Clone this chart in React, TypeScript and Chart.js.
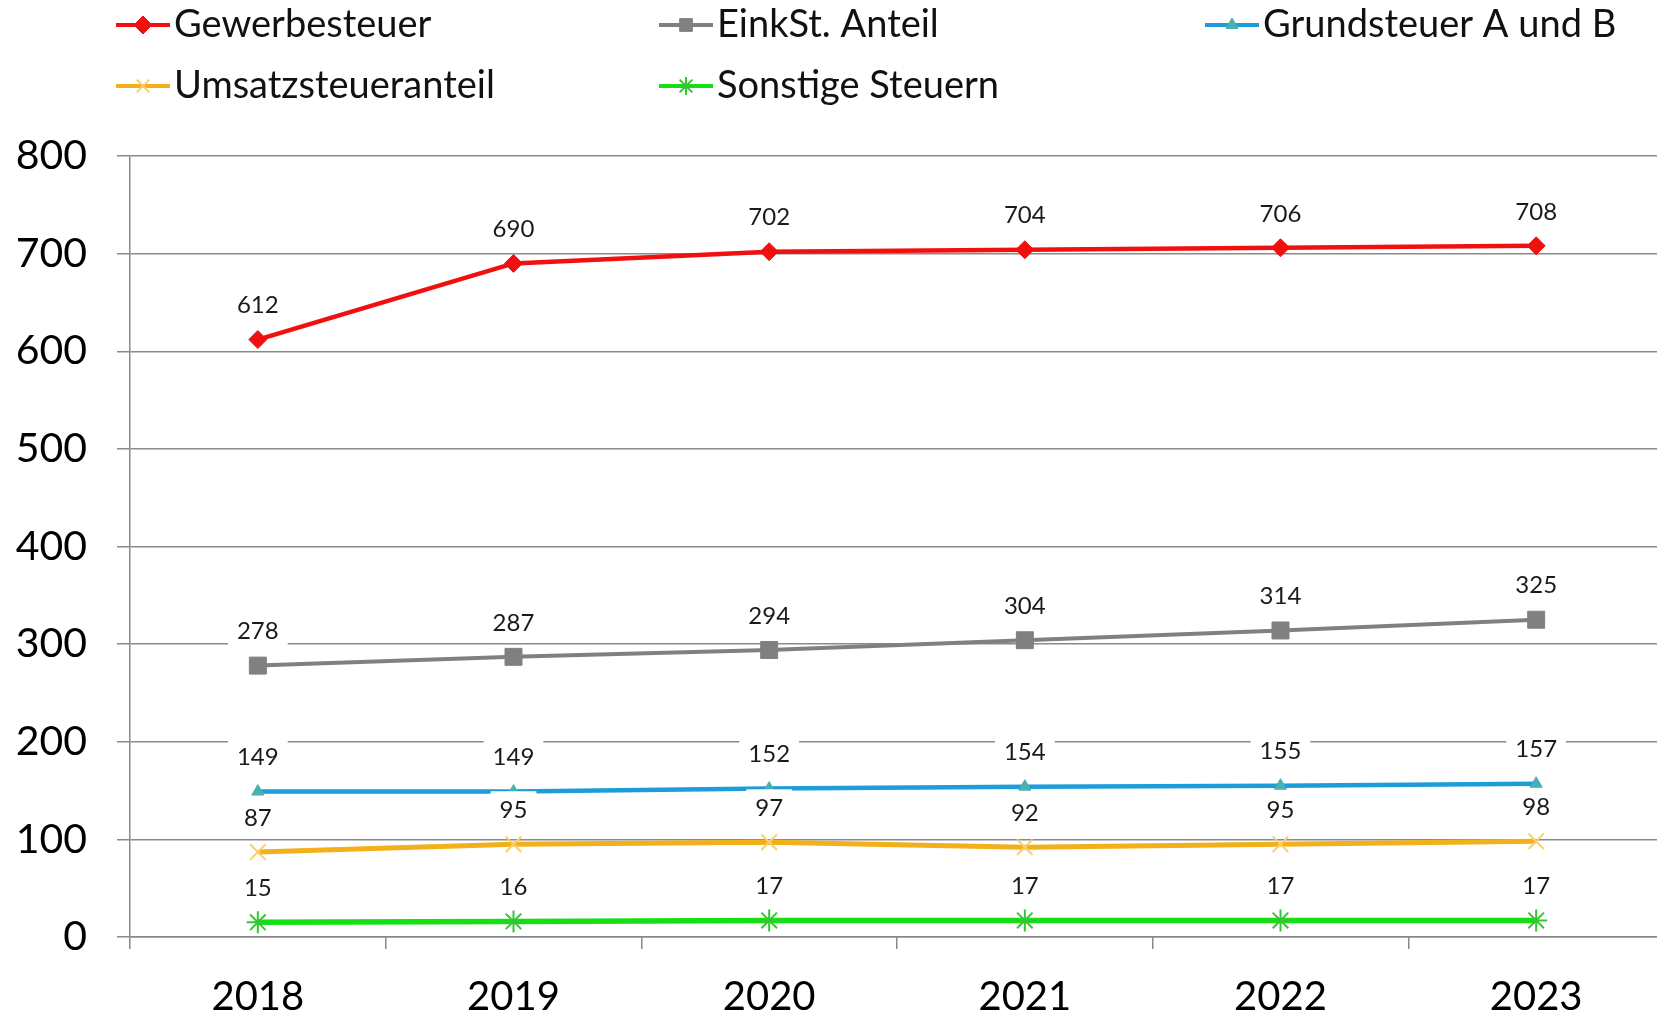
import React, { useEffect, useRef } from "react";
import { Chart, registerables } from "chart.js";

Chart.register(...registerables);

const years = ["2018", "2019", "2020", "2021", "2022", "2023"];
const gewerbesteuer = [612, 690, 702, 704, 706, 708];
const einkStAnteil = [278, 287, 294, 304, 314, 325];
const grundsteuer = [149, 149, 152, 154, 155, 157];
const umsatzsteuer = [87, 95, 97, 92, 95, 98];
const sonstige = [15, 16, 17, 17, 17, 17];
const seriesNames = [
  "Gewerbesteuer",
  "EinkSt. Anteil",
  "Grundsteuer A und B",
  "Umsatzsteueranteil",
  "Sonstige Steuern",
];
const yMin = 0;
const yMax = 800;
const yStep = 100;

const FONT = "Lato";

// legend slot positions (column x, row y)
const legendCols = [116, 659, 1205];
const legendRows = [25, 86];
const legendSlots = [
  [0, 0],
  [1, 0],
  [2, 0],
  [0, 1],
  [1, 1],
];

function drawPointShape(ctx: CanvasRenderingContext2D, style: string, x: number, y: number, r: number) {
  ctx.beginPath();
  if (style === "rectRot") {
    ctx.moveTo(x, y - r);
    ctx.lineTo(x + r, y);
    ctx.lineTo(x, y + r);
    ctx.lineTo(x - r, y);
    ctx.closePath();
    ctx.fill();
    ctx.stroke();
  } else if (style === "rect") {
    const s = r * Math.SQRT1_2;
    ctx.rect(x - s, y - s, 2 * s, 2 * s);
    ctx.fill();
    ctx.stroke();
  } else if (style === "triangle") {
    ctx.moveTo(x, y - r);
    ctx.lineTo(x + r * 0.87, y + r * 0.5);
    ctx.lineTo(x - r * 0.87, y + r * 0.5);
    ctx.closePath();
    ctx.fill();
    ctx.stroke();
  } else if (style === "crossRot") {
    const s = r * Math.SQRT1_2;
    ctx.moveTo(x - s, y - s);
    ctx.lineTo(x + s, y + s);
    ctx.moveTo(x - s, y + s);
    ctx.lineTo(x + s, y - s);
    ctx.stroke();
  } else if (style === "star") {
    const s = r * Math.SQRT1_2;
    ctx.moveTo(x - s, y - s);
    ctx.lineTo(x + s, y + s);
    ctx.moveTo(x - s, y + s);
    ctx.lineTo(x + s, y - s);
    ctx.moveTo(x, y - r);
    ctx.lineTo(x, y + r);
    ctx.moveTo(x - r, y);
    ctx.lineTo(x + r, y);
    ctx.stroke();
  }
}

const legendPlugin = {
  id: "gridLegend",
  afterDraw(chart: any) {
    const ctx = chart.ctx;
    ctx.save();
    chart.data.datasets.forEach((ds: any, i: number) => {
      const [c, r] = legendSlots[i];
      const x = legendCols[c];
      const y = legendRows[r];
      ctx.strokeStyle = ds.borderColor;
      ctx.lineWidth = 4;
      ctx.beginPath();
      ctx.moveTo(x, y);
      ctx.lineTo(x + 54, y);
      ctx.stroke();
      ctx.fillStyle = ds.pointBackgroundColor;
      ctx.strokeStyle = ds.pointBorderColor;
      ctx.lineWidth = ds.pointBorderWidth ?? 1;
      drawPointShape(ctx, ds.pointStyle, x + 27, y, Math.min(ds.pointRadius, 9));
      ctx.fillStyle = "#111";
      ctx.font = `38px ${FONT}`;
      ctx.textAlign = "left";
      ctx.textBaseline = "middle";
      ctx.fillText(ds.label, x + 58, y);
    });
    ctx.restore();
  },
};

const dataLabelPlugin = {
  id: "boxedLabels",
  afterDatasetsDraw(chart: any) {
    const ctx = chart.ctx;
    ctx.save();
    ctx.font = `24px ${FONT}`;
    ctx.textAlign = "center";
    ctx.textBaseline = "middle";
    chart.data.datasets.forEach((ds: any, di: number) => {
      const meta = chart.getDatasetMeta(di);
      meta.data.forEach((pt: any, i: number) => {
        const txt = String(ds.data[i]);
        const w = ctx.measureText(txt).width + 18;
        const h = 38;
        const cx = pt.x;
        const cy = pt.y - 34;
        ctx.fillStyle = "#ffffff";
        ctx.fillRect(cx - w / 2, cy - h / 2, w, h);
        ctx.fillStyle = "#1a1a1a";
        ctx.fillText(txt, cx, cy);
      });
    });
    ctx.restore();
  },
};

export default function App() {
  const canvasRef = useRef<HTMLCanvasElement | null>(null);

  useEffect(() => {
    if (!canvasRef.current) return;
    const mk = (
      label: string,
      data: number[],
      color: string,
      width: number,
      pointStyle: string,
      radius: number,
      pointFill: string,
      pointBorder: string,
      pointBorderWidth: number
    ) => ({
      label,
      data,
      borderColor: color,
      backgroundColor: color,
      borderWidth: width,
      pointStyle,
      pointRadius: radius,
      pointBackgroundColor: pointFill,
      pointBorderColor: pointBorder,
      pointBorderWidth,
      tension: 0,
      fill: false,
    });
    const chart = new Chart(canvasRef.current, {
      type: "line",
      data: {
        labels: years,
        datasets: [
          mk(seriesNames[0], gewerbesteuer, "#F01010", 4.5, "rectRot", 9, "#F01010", "#F01010", 1),
          mk(seriesNames[1], einkStAnteil, "#808080", 4, "rect", 12, "#808080", "#808080", 1),
          mk(seriesNames[2], grundsteuer, "#1C9CD8", 4.5, "triangle", 7, "#4AAFB0", "#4AAFB0", 1),
          mk(seriesNames[3], umsatzsteuer, "#F2B01A", 5, "crossRot", 11, "#F8D888", "#F8D070", 2),
          mk(seriesNames[4], sonstige, "#14E014", 5.5, "star", 11, "#30C830", "#30C830", 2),
        ] as any,
      },
      options: {
        animation: false,
        responsive: false,
        devicePixelRatio: 1,
        layout: { padding: { top: 156, left: 0, right: 0, bottom: 0 } },
        plugins: {
          legend: { display: false },
          tooltip: { enabled: false },
        },
        scales: {
          x: {
            offset: true,
            grid: {
              offset: true,
              drawOnChartArea: false,
              drawTicks: true,
              tickLength: 12,
              color: "#888888",
              lineWidth: 1.5,
            },
            border: { display: true, color: "#888888", width: 1.5 },
            ticks: {
              font: { family: FONT, size: 40 },
              color: "#000000",
              padding: 24,
              maxRotation: 0,
            },
            afterFit: (s: any) => {
              s.height = 80;
            },
          },
          y: {
            min: yMin,
            max: yMax,
            ticks: {
              stepSize: yStep,
              font: { family: FONT, size: 41 },
              color: "#000000",
              padding: 30,
            },
            grid: {
              color: "#8a8a8a",
              lineWidth: 1.5,
              tickLength: 13,
            },
            border: { display: true, color: "#8a8a8a", width: 1.5 },
            afterFit: (s: any) => {
              s.width = 130;
            },
          },
        },
      },
      plugins: [dataLabelPlugin, legendPlugin],
    });
    return () => chart.destroy();
  }, []);

  return (
    <div
      style={{
        position: "absolute",
        left: 0,
        top: 0,
        width: 1657,
        height: 1017,
        overflow: "hidden",
        background: "#ffffff",
      }}
    >
      <canvas
        ref={canvasRef}
        width={1677}
        height={1017}
        style={{ display: "block", width: 1677, height: 1017 }}
      />
    </div>
  );
}
